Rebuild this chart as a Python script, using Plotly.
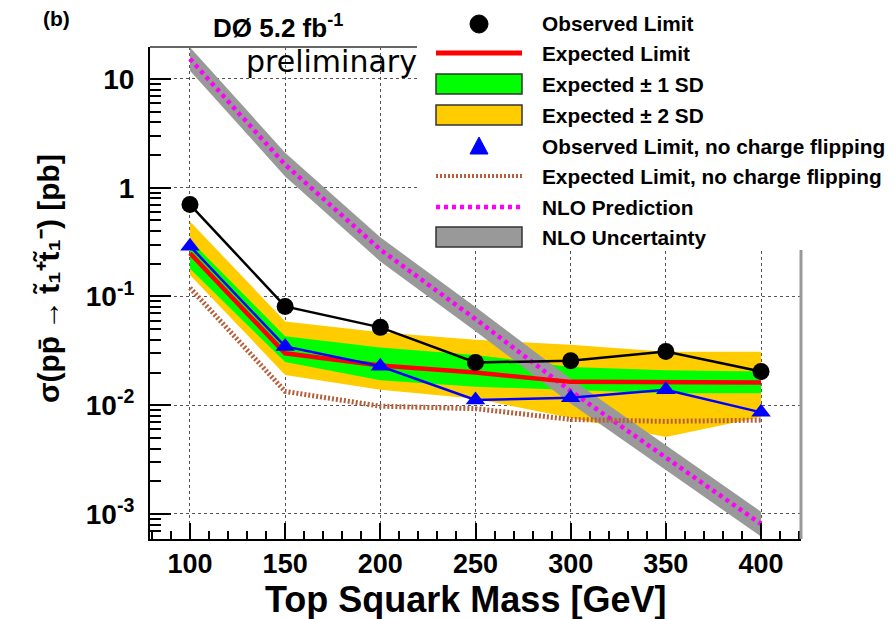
import plotly.graph_objects as go

# Top squark mass points [GeV]
mass = [100, 150, 200, 250, 300, 350, 400]

# 95% CL limits on the stop pair cross section [pb]
observed = [0.70, 0.081, 0.052, 0.0247, 0.0257, 0.0312, 0.0204]
expected = [0.25, 0.030, 0.0232, 0.0200, 0.0164, 0.0162, 0.0162]
exp_minus1 = [0.18, 0.025, 0.017, 0.0148, 0.0139, 0.0129, 0.0129]
exp_plus1 = [0.33, 0.043, 0.034, 0.029, 0.0225, 0.021, 0.0204]
exp_minus2 = [0.158, 0.019, 0.0139, 0.0115, 0.0077, 0.0051, 0.0078]
exp_plus2 = [0.49, 0.059, 0.047, 0.040, 0.036, 0.031, 0.031]
observed_nocf = [0.29, 0.0347, 0.0228, 0.0112, 0.0117, 0.0139, 0.0086]
expected_nocf = [0.12, 0.0134, 0.0098, 0.0093, 0.0074, 0.0071, 0.0073]

# NLO theory prediction and its uncertainty [pb]
nlo = [15.3, 1.63, 0.27, 0.062, 0.0135, 0.0033, 0.00081]
nlo_up = [19.6, 2.10, 0.35, 0.080, 0.0175, 0.0043, 0.00105]
nlo_down = [11.9, 1.27, 0.21, 0.048, 0.0104, 0.00255, 0.00062]

x_ticks = [100, 150, 200, 250, 300, 350, 400]
y_ticks = [10, 1, 0.1, 0.01, 0.001]
y_tick_text = ["10", "1", "10<sup>-1</sup>", "10<sup>-2</sup>", "10<sup>-3</sup>"]

legend_labels = [
    "Observed Limit",
    "Expected Limit",
    "Expected \u00b1 1 SD",
    "Expected \u00b1 2 SD",
    "Observed Limit, no charge flipping",
    "Expected Limit, no charge flipping",
    "NLO Prediction",
    "NLO Uncertainty",
]

W, H = 896, 619
BOLD = "Liberation Sans"

YELLOW = "#ffcc00"
GREEN = "#00ff00"
GRAY = "#999999"
RED = "#ff0000"
BLUE = "#0000ff"
BROWN = "#b5603a"
MAGENTA = "#ff00ff"


def px(x):
    return x / W


def py(y):
    return 1 - y / H


def band(lo, hi):
    return mass + mass[::-1], hi + lo[::-1]


fig = go.Figure()

bx, by = band(exp_minus2, exp_plus2)
fig.add_trace(go.Scatter(x=bx, y=by, fill="toself", fillcolor=YELLOW,
                         line=dict(width=0), mode="lines", hoverinfo="skip"))
bx, by = band(exp_minus1, exp_plus1)
fig.add_trace(go.Scatter(x=bx, y=by, fill="toself", fillcolor=GREEN,
                         line=dict(width=0), mode="lines", hoverinfo="skip"))
bx, by = band(nlo_down, nlo_up)
fig.add_trace(go.Scatter(x=bx, y=by, fill="toself", fillcolor=GRAY,
                         line=dict(width=0), mode="lines", hoverinfo="skip"))
fig.add_trace(go.Scatter(x=mass, y=nlo, mode="lines",
                         line=dict(color=MAGENTA, width=4.5, dash="4px,4px")))
fig.add_trace(go.Scatter(x=mass, y=expected, mode="lines",
                         line=dict(color=RED, width=4.5)))
fig.add_trace(go.Scatter(x=mass, y=expected_nocf, mode="lines",
                         line=dict(color=BROWN, width=5, dash="2px,2px")))
fig.add_trace(go.Scatter(x=mass, y=observed, mode="lines+markers",
                         line=dict(color="black", width=2.5),
                         marker=dict(symbol="circle", size=17, color="black")))
fig.add_trace(go.Scatter(x=mass, y=observed_nocf, mode="lines+markers",
                         line=dict(color=BLUE, width=2.5),
                         marker=dict(symbol="triangle-up", size=17, color=BLUE)))

x0, x1 = 150, 801
y0, y1 = 47, 539

fig.update_layout(
    width=W, height=H,
    margin=dict(l=0, r=0, t=0, b=0),
    paper_bgcolor="white", plot_bgcolor="white",
    showlegend=False,
    xaxis=dict(
        domain=[px(x0), px(x1)], range=[79, 421],
        tickvals=x_ticks, ticks="inside", ticklen=16, tickwidth=1.5, tickcolor="black",
        tickfont=dict(family=BOLD, size=27, color="black", weight="bold"),
        ticklabelstandoff=0,
        showline=True, linecolor="black", linewidth=2,
        showgrid=True, gridcolor="#555555", griddash="dot", gridwidth=1,
        zeroline=False,
        minor=dict(dtick=10, ticks="inside", ticklen=8, tickwidth=1.5,
                   tickcolor="black", showgrid=False),
    ),
    yaxis=dict(
        domain=[py(y1), py(y0)], type="log", range=[-3.23, 1.294],
        tickvals=y_ticks, ticktext=y_tick_text,
        ticks="inside", ticklen=21, tickwidth=1.5, tickcolor="black",
        tickfont=dict(family=BOLD, size=28, color="black", weight="bold"),
        ticklabelstandoff=8,
        showline=True, linecolor="black", linewidth=2,
        showgrid=True, gridcolor="#555555", griddash="dot", gridwidth=1,
        zeroline=False,
        minor=dict(dtick="D1", ticks="inside", ticklen=11, tickwidth=1.5,
                   tickcolor="black", showgrid=False),
    ),
)

shapes = []
# frame pieces at the top and right
shapes.append(dict(type="line", xref="paper", yref="paper",
                   x0=px(x0), x1=px(418), y0=py(y0), y1=py(y0),
                   line=dict(color="#666666", width=2)))
# legend area
shapes.append(dict(type="rect", xref="paper", yref="paper", layer="above",
                   x0=px(417), x1=px(W), y0=py(0), y1=py(250),
                   fillcolor="white", line=dict(width=0)))
shapes.append(dict(type="line", xref="paper", yref="paper", layer="above",
                   x0=px(x1), x1=px(x1), y0=py(250), y1=py(y1),
                   line=dict(color="#999999", width=3)))

rows = [24, 53, 84, 115, 146, 176, 207, 237]
sx0, sx1, sxc = 436, 522, 479

# Observed limit marker
r = 9
shapes.append(dict(type="circle", xref="paper", yref="paper", layer="above",
                   x0=px(sxc - r), x1=px(sxc + r), y0=py(rows[0] + r), y1=py(rows[0] - r),
                   fillcolor="black", line=dict(color="black", width=1)))
# Expected limit line
shapes.append(dict(type="line", xref="paper", yref="paper", layer="above",
                   x0=px(sx0), x1=px(sx1), y0=py(rows[1]), y1=py(rows[1]),
                   line=dict(color=RED, width=5)))
# band boxes
for row, col in [(rows[2], GREEN), (rows[3], YELLOW), (rows[7], GRAY)]:
    shapes.append(dict(type="rect", xref="paper", yref="paper", layer="above",
                       x0=px(sx0), x1=px(sx1), y0=py(row + 10), y1=py(row - 10),
                       fillcolor=col, line=dict(color="#333333", width=1.5)))
# triangle marker
t = rows[4]
tri = "M {} {} L {} {} L {} {} Z".format(px(sxc - 9), py(t + 8), px(sxc + 9), py(t + 8),
                                        px(sxc), py(t - 9))
shapes.append(dict(type="path", xref="paper", yref="paper", layer="above",
                   path=tri, fillcolor=BLUE, line=dict(color=BLUE, width=1)))
# dotted lines
shapes.append(dict(type="line", xref="paper", yref="paper", layer="above",
                   x0=px(sx0), x1=px(sx1), y0=py(rows[5]), y1=py(rows[5]),
                   line=dict(color=BROWN, width=4, dash="2px,2px")))
shapes.append(dict(type="line", xref="paper", yref="paper", layer="above",
                   x0=px(sx0), x1=px(sx1), y0=py(rows[6]), y1=py(rows[6]),
                   line=dict(color=MAGENTA, width=4.5, dash="4px,4px")))

fig.update_layout(shapes=shapes)

annotations = []
for row, label in zip(rows, legend_labels):
    annotations.append(dict(xref="paper", yref="paper", x=px(540), y=py(row),
                            xanchor="left", yanchor="middle", showarrow=False,
                            text=label,
                            font=dict(family=BOLD, size=20.8, color="black", weight="bold")))

annotations.append(dict(xref="paper", yref="paper", x=px(56), y=py(18),
                        xanchor="center", yanchor="middle", showarrow=False,
                        text="(b)", font=dict(family=BOLD, size=21, color="black", weight="bold")))
annotations.append(dict(xref="paper", yref="paper", x=px(278), y=py(27),
                        xanchor="center", yanchor="middle", showarrow=False,
                        text="D\u00d8 5.2 fb<sup>-1</sup>",
                        font=dict(family=BOLD, size=26, color="black", weight="bold")))
annotations.append(dict(xref="paper", yref="paper", x=px(331), y=py(62),
                        xanchor="center", yanchor="middle", showarrow=False,
                        text="preliminary",
                        font=dict(family="DejaVu Sans", size=30, color="black")))
annotations.append(dict(xref="paper", yref="paper", x=px(48), y=py(279),
                        xanchor="center", yanchor="middle", showarrow=False, textangle=-90,
                        text="\u03c3(pp\u0304\u2009\u2192\u2009t\u0303\u2081\u207at\u0303\u2081\u207b) [pb]",
                        font=dict(family=BOLD, size=30, color="black", weight="bold")))
annotations.append(dict(xref="paper", yref="paper", x=px(465), y=py(599),
                        xanchor="center", yanchor="middle", showarrow=False,
                        text="Top Squark Mass [GeV]",
                        font=dict(family=BOLD, size=36, color="black", weight="bold")))

fig.update_layout(annotations=annotations)

fig.write_html("out.html")
